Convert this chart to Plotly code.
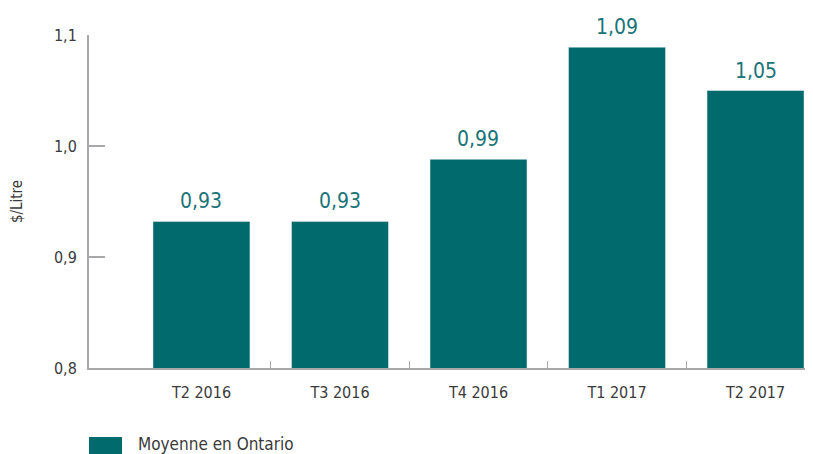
import plotly.graph_objects as go

categories = ["T2 2016", "T3 2016", "T4 2016", "T1 2017", "T2 2017"]
values = [0.932, 0.932, 0.988, 1.089, 1.050]
labels = ["0,93", "0,93", "0,99", "1,09", "1,05"]
series_name = "Moyenne en Ontario"
y_title = "$/Litre"

FONT = "Liberation Sans Narrow, DejaVu Sans Condensed, Roboto Condensed, Arial Narrow, sans-serif"
TEAL = "#006a6d"
LABEL_TEAL = "#1b7478"
AXIS = "#a8a8ab"
TEXT = "#3a3a3a"

xs = list(range(len(categories)))
mids = [i + 0.5 for i in xs[:-1]]

PW, PH = 724, 333  # plot area size in px

fig = go.Figure()
fig.add_trace(go.Bar(
    x=xs, y=values, width=0.70, marker_color=TEAL, name=series_name,
    showlegend=False,
))

for x, v, t in zip(xs, values, labels):
    fig.add_annotation(x=x, y=v, text=t, showarrow=False, yanchor="bottom",
                       yshift=6, font=dict(family=FONT, size=21, color=LABEL_TEAL))

# legend swatch + label
fig.add_shape(type="rect", xref="paper", yref="paper", x0=0, x1=33/PW,
              y0=-69/PH, y1=-90/PH, fillcolor=TEAL, line_width=0)
fig.add_annotation(xref="paper", yref="paper", x=47/PW, y=-64/PH, text=series_name,
                   showarrow=False, xanchor="left", yanchor="top",
                   font=dict(family=FONT, size=17, color=TEXT))

fig.update_layout(
    width=805, height=446,
    margin=dict(l=81, r=0, t=27, b=86),
    plot_bgcolor="white", paper_bgcolor="white",
    separators=", ",
    font=dict(family=FONT, color=TEXT),
    xaxis=dict(
        range=[-0.812, 4.415], tickvals=xs, ticktext=categories,
        ticks="", showline=True, linecolor=AXIS, linewidth=2,
        showgrid=False, zeroline=False, ticklabelstandoff=9,
        tickfont=dict(family=FONT, size=16, color=TEXT),
        minor=dict(tickvals=mids, ticks="inside", ticklen=7, tickwidth=1, tickcolor=AXIS, showgrid=False),
    ),
    yaxis=dict(
        range=[0.8, 1.1], tickvals=[0.8, 0.9, 1.0, 1.1], tickformat=".1f",
        ticks="inside", ticklen=16, tickwidth=2, tickcolor=AXIS,
        showline=True, linecolor=AXIS, linewidth=2, showgrid=False, zeroline=False,
        ticklabelstandoff=7,
        tickfont=dict(family=FONT, size=16, color=TEXT),
        title=dict(text=y_title, font=dict(family=FONT, size=15, color=TEXT), standoff=42),
        automargin=False,
    ),
)

fig.write_html("out.html")
